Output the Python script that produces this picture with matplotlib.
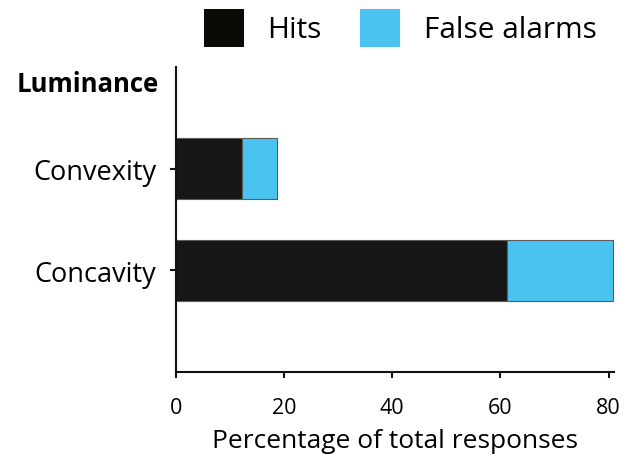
import matplotlib
matplotlib.use("Agg")
import matplotlib.pyplot as plt
from matplotlib.patches import Patch

plt.rcParams['font.family'] = ['Open Sans', 'DejaVu Sans']

categories = ["Concavity", "Convexity"]
hits = [61.3, 12.3]
false_alarms = [19.6, 6.3]
xticks = [0, 20, 40, 60, 80]
group_label = "Luminance"
series_names = ["Hits", "False alarms"]
colors = ["#171717", "#4bc3f0"]

fig = plt.figure(figsize=(6.36, 4.56), dpi=100)
ax = fig.add_axes([0.2767, 0.182, 0.6887, 0.669])

ypos = list(range(len(categories)))
ax.barh(ypos, hits, height=0.6, color=colors[0], edgecolor="#5a5a5a", linewidth=0.8)
ax.barh(ypos, false_alarms, left=hits, height=0.6, color=colors[1], edgecolor="#5a5a5a", linewidth=0.8)

ax.set_xlim(0, 81)
ax.set_ylim(-1, 2)
ax.set_yticks(ypos)
ax.set_yticklabels(categories, fontsize=19.5)
ax.set_xticks(xticks)
ax.set_xticklabels([str(t) for t in xticks], fontsize=15.5)
ax.set_xlabel("Percentage of total responses", fontsize=19, labelpad=7)

for s in ["top", "right"]:
    ax.spines[s].set_visible(False)
for s in ["left", "bottom"]:
    ax.spines[s].set_linewidth(1.5)
    ax.spines[s].set_color("#111111")
ax.tick_params(axis="both", length=4.3, width=1.5, color="#111111")
ax.tick_params(axis="x", pad=14)
ax.tick_params(axis="y", pad=10)

ax.text(-0.04, 1.84, group_label, transform=ax.get_yaxis_transform(),
        ha="right", va="center", fontsize=18.5, fontweight="bold")

handles = [Patch(facecolor="#0c0a06", edgecolor="none"),
           Patch(facecolor=colors[1], edgecolor="none")]
fig.legend(handles, series_names, loc="upper right", bbox_to_anchor=(0.971, 1.025),
           ncol=2, frameon=False, fontsize=21.5, handlelength=1.34, handleheight=1.6,
           handletextpad=0.8, columnspacing=1.27, borderaxespad=0.3)

fig.savefig("out.png", dpi=100)
